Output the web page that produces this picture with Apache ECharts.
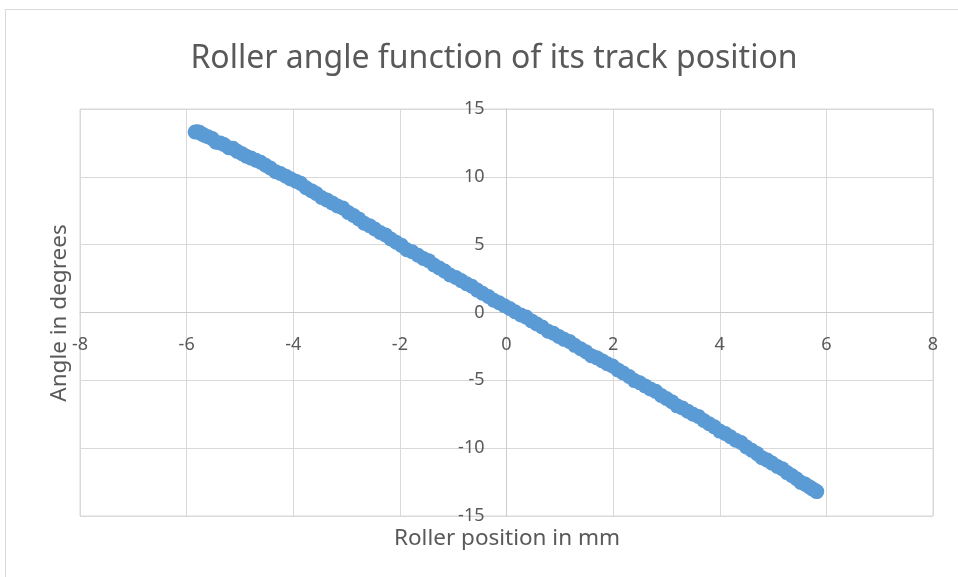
<!DOCTYPE html>
<html>
<head>
<meta charset="utf-8">
<script src="https://cdn.jsdelivr.net/npm/echarts@6/dist/echarts.min.js"></script>
<style>
  html, body { margin: 0; padding: 0; background: #ffffff; }
  #chart { width: 958px; height: 577px; }
</style>
</head>
<body>
<div id="chart"></div>
<script>
// Roller position (mm) and the matching roller angle (degrees)
const positionMm = [
  -5.84, -5.80, -5.76, -5.71, -5.66, -5.60, -5.52, -5.45, -5.37, -5.30,
  -5.21, -5.13, -5.05, -4.96, -4.88, -4.79, -4.70, -4.61, -4.52, -4.43,
  -4.33, -4.24, -4.14, -4.05, -3.95, -3.86, -3.76, -3.66, -3.57, -3.47,
  -3.37, -3.27, -3.17, -3.07, -2.97, -2.87, -2.77, -2.67, -2.57, -2.47,
  -2.37, -2.27, -2.17, -2.07, -1.97, -1.87, -1.77, -1.66, -1.56, -1.46,
  -1.36, -1.26, -1.16, -1.06, -0.95, -0.85, -0.75, -0.65, -0.55, -0.45,
  -0.34, -0.24, -0.14, -0.04, 0.06, 0.16, 0.27, 0.37, 0.47, 0.57,
  0.67, 0.78, 0.88, 0.98, 1.08, 1.18, 1.28, 1.39, 1.49, 1.59,
  1.69, 1.79, 1.89, 1.99, 2.09, 2.19, 2.30, 2.40, 2.50, 2.60,
  2.70, 2.80, 2.90, 3.00, 3.10, 3.20, 3.30, 3.40, 3.50, 3.60,
  3.70, 3.80, 3.90, 4.00, 4.10, 4.20, 4.30, 4.40, 4.50, 4.60,
  4.70, 4.79, 4.89, 4.98, 5.08, 5.17, 5.26, 5.35, 5.44, 5.52,
  5.60, 5.67, 5.73, 5.78, 5.82
];
const angleDeg = [
  13.30, 13.32, 13.28, 13.15, 13.05, 12.95, 12.82, 12.55, 12.50, 12.38,
  12.15, 12.10, 11.88, 11.70, 11.52, 11.38, 11.22, 11.08, 10.85, 10.65,
  10.38, 10.25, 10.05, 9.85, 9.68, 9.52, 9.20, 8.98, 8.78, 8.48,
  8.30, 8.08, 7.85, 7.70, 7.38, 7.15, 6.90, 6.58, 6.40, 6.15,
  5.90, 5.72, 5.42, 5.18, 4.95, 4.63, 4.48, 4.22, 3.98, 3.82,
  3.50, 3.28, 3.05, 2.76, 2.58, 2.35, 2.12, 1.94, 1.65, 1.42,
  1.18, 0.90, 0.72, 0.50, 0.29, 0.06, -0.18, -0.34, -0.62, -0.85,
  -1.07, -1.38, -1.53, -1.76, -1.98, -2.13, -2.42, -2.67, -2.89, -3.18,
  -3.33, -3.55, -3.78, -3.94, -4.23, -4.46, -4.72, -5.02, -5.18, -5.41,
  -5.64, -5.81, -6.11, -6.34, -6.57, -6.88, -7.04, -7.27, -7.50, -7.66,
  -7.96, -8.20, -8.43, -8.74, -8.91, -9.16, -9.41, -9.58, -9.91, -10.15,
  -10.40, -10.70, -10.88, -11.10, -11.35, -11.51, -11.80, -12.02, -12.25, -12.52,
  -12.65, -12.82, -12.98, -13.10, -13.20
];

const chartTitle = 'Roller angle function of its track position';
const xAxisTitle = 'Roller position in mm';
const yAxisTitle = 'Angle in degrees';

const FONT = "'Noto Sans', 'Liberation Sans', sans-serif";
const TEXT = '#595959';
const GRID = '#d9d9d9';
const AXIS = '#cccccc';

// plot area box
const W = 958, H = 577;
const plot = { left: 80, right: 25, top: 109, bottom: 61 };
const plotW = W - plot.left - plot.right;
const plotH = H - plot.top - plot.bottom;

const points = positionMm.map((x, i) => [x, angleDeg[i]]);

const chart = echarts.init(document.getElementById('chart'), null, { renderer: 'canvas' });

chart.setOption({
  animation: false,
  backgroundColor: '#ffffff',
  textStyle: { fontFamily: FONT },
  title: {
    text: chartTitle,
    left: 489,
    top: 38,
    textAlign: 'center',
    textStyle: { fontFamily: FONT, fontSize: 32, fontWeight: 'normal', color: TEXT }
  },
  grid: {
    left: plot.left,
    right: plot.right,
    top: plot.top,
    bottom: plot.bottom,
    show: true,
    borderColor: GRID,
    borderWidth: 1
  },
  xAxis: {
    type: 'value',
    min: -8,
    max: 8,
    interval: 2,
    position: 'bottom',
    // axes cross at the origin (centre of the plot box)
    offset: -plotH / 2,
    axisLine: { show: true, onZero: false, lineStyle: { color: AXIS, width: 1 } },
    axisTick: { show: false },
    splitLine: { show: true, lineStyle: { color: GRID, width: 1 } },
    axisLabel: { color: TEXT, fontSize: 18, fontFamily: FONT, margin: 23 }
  },
  yAxis: {
    type: 'value',
    min: -15,
    max: 15,
    interval: 5,
    position: 'left',
    offset: -plotW / 2,
    axisLine: { show: true, onZero: false, lineStyle: { color: AXIS, width: 1 } },
    axisTick: { show: false },
    splitLine: { show: true, lineStyle: { color: GRID, width: 1 } },
    axisLabel: { color: TEXT, fontSize: 18, fontFamily: FONT, margin: 22 }
  },
  graphic: [
    {
      type: 'rect',
      silent: true,
      shape: { x: 5.5, y: 9.5, width: 1000, height: 600 },
      style: { fill: 'none', stroke: GRID, lineWidth: 1 },
      z: -1
    },
    {
      type: 'text',
      x: 507,
      y: 539,
      style: {
        text: xAxisTitle,
        textAlign: 'center',
        textVerticalAlign: 'middle',
        fill: TEXT,
        font: '22.5px ' + FONT
      }
    },
    {
      type: 'text',
      x: 60,
      y: 313,
      rotation: Math.PI / 2,
      style: {
        text: yAxisTitle,
        textAlign: 'center',
        textVerticalAlign: 'middle',
        fill: TEXT,
        font: '22.5px ' + FONT
      }
    }
  ],
  series: [{
    type: 'scatter',
    data: points,
    symbol: 'circle',
    symbolSize: 15,
    itemStyle: { color: '#5b9bd5', opacity: 1 }
  }]
});
</script>
</body>
</html>
